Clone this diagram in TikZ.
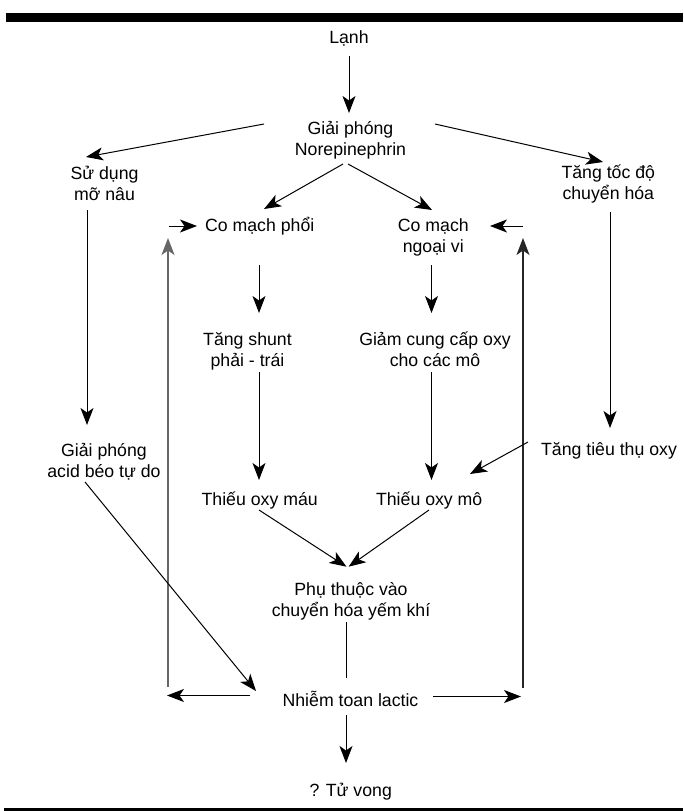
\documentclass[tikz,border=0pt]{standalone}
\usepackage{fontspec}
\setmainfont{Liberation Sans}
\usetikzlibrary{arrows.meta}
\tikzset{
  txt/.style={inner sep=0pt, anchor=base, align=center, font=\fontsize{17.7}{21}\selectfont},
  tip/.style={-{Stealth[length=17pt,width=13pt,inset=4.5pt]}},
  arr/.style={line width=1pt, tip},
  plain/.style={line width=1pt},
  loopl/.style={line width=1.6pt, draw=black!60, tip},
  loopr/.style={line width=1.2pt, draw=black!85, tip},
  bar/.style={fill=black, draw=none}
}
\begin{document}
\begin{tikzpicture}[x=1pt,y=-1pt]
\useasboundingbox (0,0) rectangle (683,811);
\fill[bar] (6,13.3) rectangle (683,21.7);
\fill[bar] (4,807.5) rectangle (683,811);

% nodes (base anchor = baseline of the last line)
\node[txt] (lanh) at (349,43) {Lạnh};
\node[txt] (gp) at (350.5,155) {Giải phóng\\Norepinephrin};
\node[txt] (sd) at (104.5,200.5) {Sử dụng\\mỡ nâu};
\node[txt] (ttd) at (608.3,199) {Tăng tốc độ\\chuyển hóa};
\node[txt] (cmp) at (259.7,231.7) {Co mạch phổi};
\node[txt] (cmn) at (433.3,252.7) {Co mạch\\ngoại vi};
\node[txt] (ts) at (247.5,366) {Tăng shunt\\phải - trái};
\node[txt] (gc) at (435,366) {Giảm cung cấp oxy\\cho các mô};
\node[txt] (gpa) at (104,477.5) {Giải phóng\\acid béo tự do};
\node[txt] (ttt) at (609,455) {Tăng tiêu thụ oxy};
\node[txt] (tom) at (259.7,505) {Thiếu oxy máu};
\node[txt] (tomo) at (429.2,505) {Thiếu oxy mô};
\node[txt] (pt) at (351,616.7) {Phụ thuộc vào\\chuyển hóa yếm khí};
\node[txt] (nt) at (350.5,706.7) {Nhiễm toan lactic};
\node[txt] (tv) at (350.7,796.7) {? Tử vong};

% connector end points
\coordinate (lanh-s) at (349,56);
\coordinate (gp-n) at (349,113);
\coordinate (gp-w) at (264,124);
\coordinate (sd-n) at (86,157);
\coordinate (gp-e) at (435,124);
\coordinate (ttd-n) at (603,162);
\coordinate (gp-sw) at (343,164);
\coordinate (cmp-n) at (264,209);
\coordinate (gp-se) at (348,164);
\coordinate (cmn-n) at (432,210);
\coordinate (cmp-wa) at (169,226);
\coordinate (cmp-w) at (197,226);
\coordinate (cmn-ea) at (523,226);
\coordinate (cmn-e) at (490,226);
\coordinate (lv-b) at (168,687);
\coordinate (lv-t) at (168,238);
\coordinate (rv-b) at (523,688);
\coordinate (rv-t) at (523,238);
\coordinate (sd-s) at (87,210);
\coordinate (gpa-n) at (87,425);
\coordinate (ttd-s) at (610,212);
\coordinate (ttt-n) at (610,428);
\coordinate (cmp-s) at (259,265);
\coordinate (ts-n) at (259,313);
\coordinate (cmn-s) at (431.5,265);
\coordinate (gc-n) at (431.5,313);
\coordinate (ts-s) at (259,372);
\coordinate (tom-n) at (259,480);
\coordinate (gc-s) at (431.5,372);
\coordinate (tomo-n) at (431.5,480);
\coordinate (ttt-w) at (528,442);
\coordinate (tomo-e) at (470,474);
\coordinate (tom-s) at (259,510);
\coordinate (pt-n1) at (346.5,566.7);
\coordinate (tomo-s) at (429,510);
\coordinate (pt-n2) at (348.6,566.7);
\coordinate (pt-s) at (346,622);
\coordinate (nt-n) at (346,678);
\coordinate (gpa-s) at (85,482);
\coordinate (nt-nw) at (256,691);
\coordinate (nt-w) at (250,695.5);
\coordinate (nt-wa) at (167,695.5);
\coordinate (nt-e) at (433,696.5);
\coordinate (nt-ea) at (521,696.5);
\coordinate (nt-s) at (346,715);
\coordinate (tv-n) at (346,763);

% connectors
\draw[arr] (lanh-s) -- (gp-n);
\draw[arr] (gp-w) -- (sd-n);
\draw[arr] (gp-e) -- (ttd-n);
\draw[arr] (gp-sw) -- (cmp-n);
\draw[arr] (gp-se) -- (cmn-n);
\draw[arr] (cmp-wa) -- (cmp-w);
\draw[arr] (cmn-ea) -- (cmn-e);
\draw[loopl] (lv-b) -- (lv-t);
\draw[loopr] (rv-b) -- (rv-t);
\draw[arr] (sd-s) -- (gpa-n);
\draw[arr] (ttd-s) -- (ttt-n);
\draw[arr] (cmp-s) -- (ts-n);
\draw[arr] (cmn-s) -- (gc-n);
\draw[arr] (ts-s) -- (tom-n);
\draw[arr] (gc-s) -- (tomo-n);
\draw[arr] (ttt-w) -- (tomo-e);
\draw[arr] (tom-s) -- (pt-n1);
\draw[arr] (tomo-s) -- (pt-n2);
\draw[plain] (pt-s) -- (nt-n);
\draw[arr] (gpa-s) -- (nt-nw);
\draw[arr] (nt-w) -- (nt-wa);
\draw[arr] (nt-e) -- (nt-ea);
\draw[arr] (nt-s) -- (tv-n);
\end{tikzpicture}
\end{document}
